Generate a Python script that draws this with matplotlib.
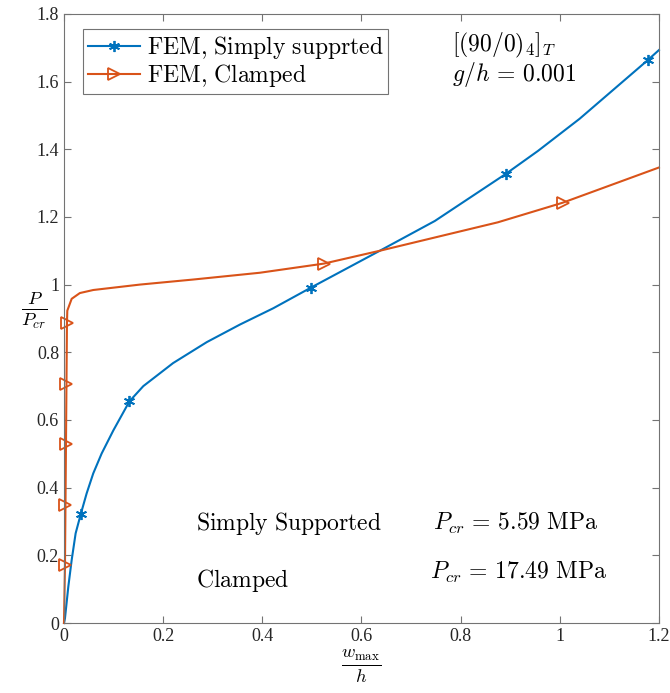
import numpy as np
import matplotlib.pyplot as plt

plt.rcParams['mathtext.fontset'] = 'cm'
plt.rcParams['font.family'] = 'Liberation Serif'

# simply supported (blue)
ss_x = [0, 0.002, 0.0087, 0.0155, 0.0235, 0.0337, 0.0457, 0.059, 0.076, 0.0995,
        0.132, 0.160, 0.220, 0.288, 0.355, 0.422, 0.498, 0.637, 0.748, 0.891,
        0.956, 1.04, 1.178, 1.2]
ss_y = [0, 0.014, 0.107, 0.186, 0.265, 0.321, 0.383, 0.442, 0.501, 0.569,
        0.655, 0.700, 0.768, 0.830, 0.882, 0.930, 0.991, 1.100, 1.188, 1.327,
        1.395, 1.490, 1.664, 1.693]
ss_marks = [5, 10, 16, 19, 22]

# clamped (orange)
cl_x = [0, 0.002, 0.003, 0.004, 0.005, 0.006, 0.0067, 0.0155, 0.032, 0.059,
        0.153, 0.261, 0.395, 0.524, 0.637, 0.875, 1.006, 1.2]
cl_y = [0, 0.171, 0.348, 0.528, 0.705, 0.886, 0.923, 0.958, 0.975, 0.984,
        1.0, 1.015, 1.035, 1.062, 1.100, 1.184, 1.242, 1.346]
cl_marks = [1, 2, 3, 4, 5, 13, 16]

blue = '#0072BD'
orange = '#D95319'

fig = plt.figure(figsize=(6.7, 6.93), dpi=100)
ax = fig.add_axes([0.0955, 0.101, 0.888, 0.879])

ax.plot(ss_x, ss_y, color=blue, lw=1.5, marker=(6, 2, 0), ms=8, mew=1.3,
        markevery=ss_marks, clip_on=False,
        label=r'$\mathrm{FEM{,}\ Simply\ supprted}$')
ax.plot(cl_x, cl_y, color=orange, lw=1.5, marker='>', ms=9, mew=1.3,
        mfc='none', markevery=cl_marks, clip_on=False,
        label=r'$\mathrm{FEM{,}\ Clamped}$')

ax.set_xlim(0, 1.2)
ax.set_ylim(0, 1.8)
ax.set_xticks(np.arange(0, 1.21, 0.2))
ax.set_xticklabels(['0', '0.2', '0.4', '0.6', '0.8', '1', '1.2'])
ax.set_yticks(np.arange(0, 1.81, 0.2))
ax.set_yticklabels(['0', '0.2', '0.4', '0.6', '0.8', '1', '1.2', '1.4', '1.6', '1.8'])
ax.tick_params(direction='in', top=True, right=True, length=5, width=0.8,
               colors='0.45', labelcolor='0.15', labelsize=13)
for s in ax.spines.values():
    s.set_color('0.45')
    s.set_linewidth(0.8)

ax.set_xlabel(r'$\frac{w_{\max}}{h}$', fontsize=19, labelpad=2)
ax.set_ylabel(r'$\frac{P}{P_{cr}}$', fontsize=19, rotation=0)
ax.yaxis.set_label_coords(-0.05, 0.48)

leg = ax.legend(loc='upper left', bbox_to_anchor=(0.032, 0.975), fontsize=17,
                fancybox=False, edgecolor='0.45', framealpha=1, numpoints=1,
                handlelength=2.2, borderpad=0.2, labelspacing=0.05,
                handletextpad=0.3, borderaxespad=0)
leg.get_frame().set_linewidth(0.8)

ax.text(0.783, 1.708, r'$[(90/0)_4]_T$', fontsize=17, va='center')
ax.text(0.783, 1.62, r'$g/h\,=\,0.001$', fontsize=17, va='center')
ax.text(0.266, 0.295, r'$\mathrm{Simply\ Supported}$', fontsize=17, va='center')
ax.text(0.266, 0.127, r'$\mathrm{Clamped}$', fontsize=17, va='center')
ax.text(0.744, 0.295, r'$P_{cr}\,=\,5.59\ \mathrm{MPa}$', fontsize=17, va='center')
ax.text(0.738, 0.15, r'$P_{cr}\,=\,17.49\ \mathrm{MPa}$', fontsize=17, va='center')

fig.savefig('out.png', dpi=100)
